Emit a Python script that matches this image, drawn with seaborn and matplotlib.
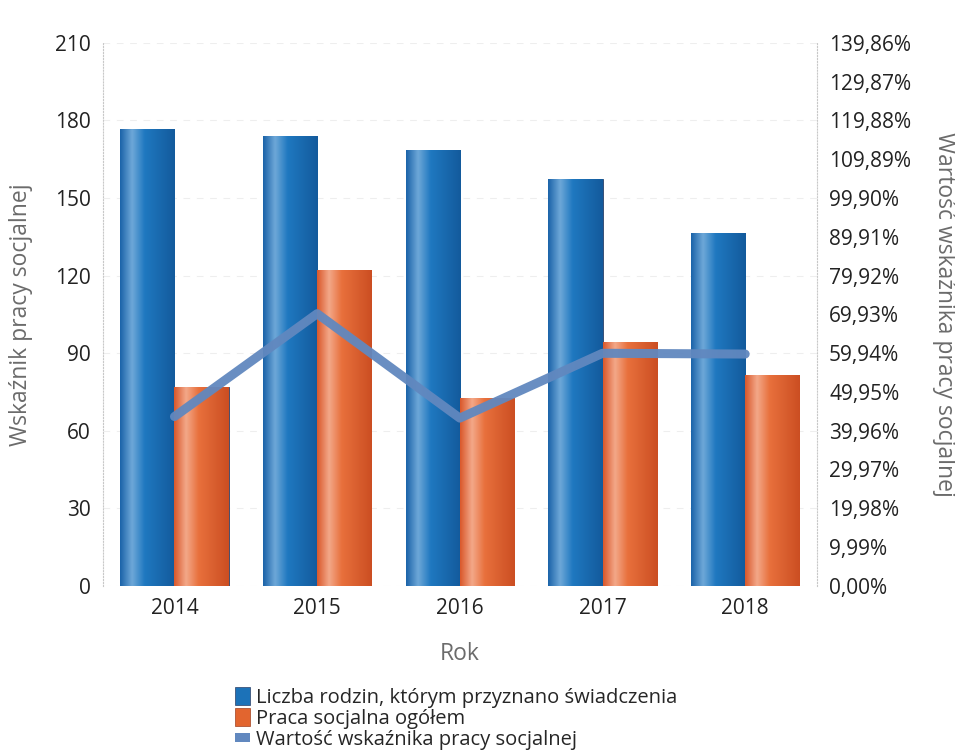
import numpy as np
import pandas as pd
import seaborn as sns
import matplotlib.pyplot as plt
from matplotlib.patches import Patch, Rectangle
from matplotlib.colors import LinearSegmentedColormap, to_hex

# === Data
years = ["2014", "2015", "2016", "2017", "2018"]
families = [176.6, 174.1, 168.6, 157.4, 136.6]
social_work = [76.8, 122.2, 72.8, 94.2, 81.6]
indicator_pct = [43.6, 70.1, 43.2, 59.9, 59.7]

left_ticks = [0, 30, 60, 90, 120, 150, 180, 210]
right_ticks = [0.00, 9.99, 19.98, 29.97, 39.96, 49.95, 59.94, 69.93,
               79.92, 89.91, 99.90, 109.89, 119.88, 129.87, 139.86]

lab_fam = "Liczba rodzin, którym przyznano świadczenia"
lab_sw = "Praca socjalna ogółem"
lab_ind = "Wartość wskaźnika pracy socjalnej"

BLUE = "#1c72b8"
ORANGE = "#e2652f"
LINE = "#6188bf"
GREY_TXT = "#6b6b6b"

# shaded look of the bars (horizontal gradient)
grad = {
    to_hex(BLUE): LinearSegmentedColormap.from_list(
        "b", [(0, "#1a62a8"), (0.22, "#6ea8d8"), (0.45, "#1f78c0"), (1, "#135a9c")]),
    to_hex(ORANGE): LinearSegmentedColormap.from_list(
        "o", [(0, "#d9572a"), (0.22, "#f3a889"), (0.45, "#e8703c"), (1, "#cb4e22")]),
}

sns.set_style("white")
plt.rcParams["font.family"] = ["Open Sans", "DejaVu Sans"]

df = pd.DataFrame({
    "Rok": years * 2,
    "value": families + social_work,
    "series": [lab_fam] * len(years) + [lab_sw] * len(years),
})

fig = plt.figure(figsize=(9.55, 7.52), dpi=100)
ax = fig.add_axes([0.108, 0.221, 0.747, 0.722])

sns.barplot(data=df, x="Rok", y="value", hue="series",
            palette=[BLUE, ORANGE], width=0.76, ax=ax,
            edgecolor="#2a3f66", linewidth=0.6, saturation=1, legend=False)

# gradient fill clipped to each bar
g = np.linspace(0, 1, 256).reshape(1, -1)
for p in list(ax.patches):
    cmap = grad.get(to_hex(p.get_facecolor()))
    if cmap is None:
        continue
    x0, y0 = p.get_x(), p.get_y()
    im = ax.imshow(g, cmap=cmap, aspect="auto", interpolation="bicubic",
                   extent=[x0, x0 + p.get_width(), y0, y0 + p.get_height()],
                   zorder=p.get_zorder() + 0.1)
    im.set_clip_path(p)
ax.set_aspect("auto")
ax.set_xlim(-0.5, len(years) - 0.5)
ax.set_ylim(0, 210)

ax.set_yticks(left_ticks)
ax.set_ylabel("Wskaźnik pracy socjalnej", fontsize=16.5, color=GREY_TXT, labelpad=16)
ax.set_xlabel("Rok", fontsize=16.5, color=GREY_TXT, labelpad=16)
ax.tick_params(axis="both", labelsize=15, colors="#222222", length=0, pad=9)
ax.yaxis.grid(True, color="#eeeeee", linestyle=(0, (6, 6)), linewidth=0.8)
ax.set_axisbelow(True)
for s in ["top", "bottom", "right"]:
    ax.spines[s].set_visible(False)
ax.spines["left"].set_color("#c8c8c8")
ax.spines["left"].set_linestyle(":")

# Right axis: percentage indicator
ax2 = ax.twinx()
sns.lineplot(x=np.arange(len(years)), y=indicator_pct, ax=ax2,
             color=LINE, linewidth=6.5, alpha=0.95)
ax2.set_ylim(0, 139.86)
ax2.set_yticks(right_ticks)
ax2.set_yticklabels([f"{v:.2f}%".replace(".", ",") for v in right_ticks])
ax2.set_ylabel("Wartość wskaźnika pracy socjalnej", fontsize=16.5, color=GREY_TXT,
               rotation=270, labelpad=32)
ax2.tick_params(axis="y", labelsize=15, colors="#222222", length=0, pad=9)
for s in ["top", "bottom", "left"]:
    ax2.spines[s].set_visible(False)
ax2.spines["right"].set_color("#c8c8c8")
ax2.spines["right"].set_linestyle(":")
ax.set_xlim(-0.5, len(years) - 0.5)

handles = [
    Patch(facecolor=BLUE, edgecolor="#2a3f66", linewidth=0.5),
    Patch(facecolor=ORANGE, edgecolor="#a04020", linewidth=0.5),
    Rectangle((0, 0), 1, 1, facecolor=LINE, edgecolor="none"),
]
leg = fig.legend(handles, [lab_fam, lab_sw, lab_ind], loc="upper left",
                 bbox_to_anchor=(0.238, 0.097), frameon=False, fontsize=14.5,
                 handlelength=0.75, handleheight=1.0, handletextpad=0.3,
                 labelspacing=0.0, borderaxespad=0)
h0 = leg.legend_handles[0]
h2 = leg.legend_handles[2]
h2.set_height(0.45 * h0.get_height())
h2.set_y(h0.get_y() + 0.3 * h0.get_height())

plt.savefig("out.png", dpi=100)
print("Saved out.png")
